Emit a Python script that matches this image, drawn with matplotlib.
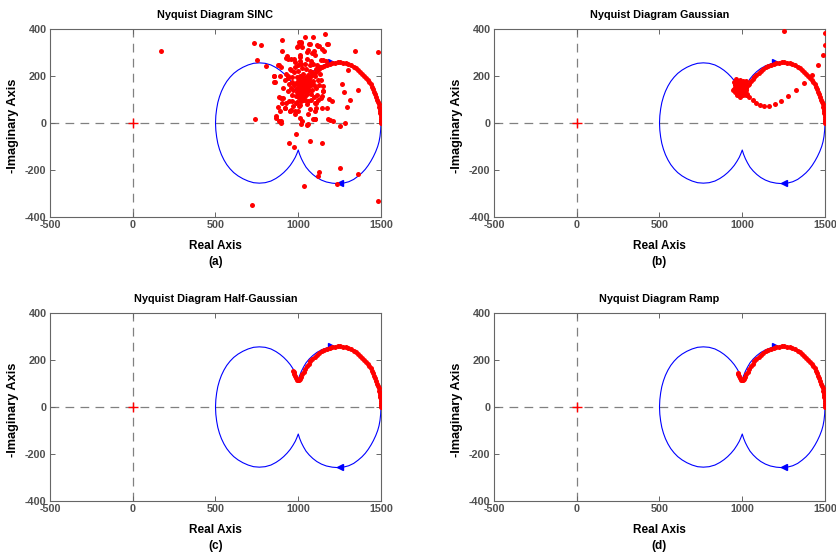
import matplotlib
matplotlib.use("Agg")
import matplotlib.pyplot as plt

plt.rcParams['font.family'] = ['Liberation Sans', 'DejaVu Sans']
plt.rcParams['font.weight'] = 'bold'
plt.rcParams['axes.unicode_minus'] = False

# ---------------- data ----------------
titles = ["Nyquist Diagram SINC", "Nyquist Diagram Gaussian",
          "Nyquist Diagram Half-Gaussian", "Nyquist Diagram Ramp"]
panel_tags = ["(a)", "(b)", "(c)", "(d)"]
x_ticks = [-500, 0, 500, 1000, 1500]
y_ticks = [-400, -200, 0, 200, 400]

# blue nyquist contour, upper half (positive imaginary), from (1500,0) to (500,0)
blue_re_up = [1500, 1498, 1494, 1488, 1480, 1468, 1454, 1440, 1423, 1405, 1385, 1362, 1335,
              1305, 1272, 1240, 1205, 1170, 1140, 1112, 1088, 1066, 1047, 1032, 1019, 1008, 1000,
              992, 982, 968, 952, 933, 912, 890, 865, 835, 800, 765, 730, 697, 665, 636, 610,
              588, 568, 551, 536, 524, 514, 507, 502, 500]
blue_im_up = [0, 30, 57, 80, 100, 122, 143, 161, 180, 197, 212, 226, 240,
              250, 256, 258, 256, 251, 243, 232, 219, 204, 188, 170, 152, 133, 115,
              130, 146, 163, 180, 196, 211, 224, 236, 247, 254, 256, 254, 247, 237, 225, 211,
              195, 177, 157, 135, 112, 87, 60, 31, 0]

# red response: right lobe (half-gaussian)
c_re = [1500, 1500, 1499, 1498, 1497, 1495, 1493, 1491, 1488, 1485, 1481, 1477, 1472, 1466, 1460,
        1453, 1446, 1438, 1429, 1420, 1410, 1399, 1388, 1376, 1362, 1348, 1334, 1318, 1302, 1286,
        1270, 1254, 1238, 1222, 1206, 1190, 1174, 1158, 1143, 1128, 1113, 1099, 1086, 1074, 1063,
        1052, 1042, 1033, 1025, 1017, 1010, 1004, 998, 992, 986, 981, 976, 972, 969]
c_im = [0, 8, 16, 24, 32, 41, 50, 60, 70, 80, 90, 100, 112, 124, 134,
        144, 154, 164, 174, 183, 193, 202, 210, 218, 226, 233, 240, 246, 250, 254,
        256, 258, 258, 257, 255, 252, 248, 243, 238, 231, 223, 214, 205, 195, 184,
        174, 162, 150, 139, 128, 120, 114, 113, 117, 124, 131, 139, 147, 153]

# red response: ramp
d_re = [1500, 1500, 1499, 1498, 1497, 1495, 1493, 1491, 1488, 1485, 1481, 1477, 1472, 1466, 1460,
        1453, 1446, 1438, 1429, 1420, 1410, 1399, 1388, 1376, 1362, 1348, 1334, 1318, 1302, 1286,
        1270, 1254, 1238, 1222, 1206, 1190, 1174, 1158, 1143, 1128, 1113, 1099, 1086, 1074, 1063,
        1052, 1042, 1033, 1025, 1017, 1010, 1004, 998, 992, 986, 981, 976, 973]
d_im = [0, 8, 16, 24, 32, 41, 50, 60, 70, 80, 90, 100, 112, 124, 134,
        144, 154, 164, 174, 183, 193, 202, 210, 218, 226, 233, 240, 246, 250, 254,
        256, 258, 258, 257, 255, 252, 248, 243, 238, 231, 223, 214, 205, 195, 184,
        174, 162, 150, 139, 128, 120, 114, 113, 117, 124, 131, 139, 146]

# red response: gaussian (lobe, tangle and outer loop)
b_lobe_re = [1500, 1500, 1499, 1498, 1497, 1495, 1493, 1491, 1488, 1485, 1481, 1477, 1472, 1466,
             1460, 1453, 1446, 1438, 1429, 1420, 1410, 1399, 1388, 1376, 1362, 1348, 1334, 1318,
             1302, 1286, 1270, 1254, 1238, 1222, 1206, 1190, 1174, 1158, 1143, 1128, 1113, 1099,
             1086, 1074, 1063, 1052, 1042, 1033, 1024, 1015]
b_lobe_im = [0, 8, 16, 24, 32, 41, 50, 60, 70, 80, 90, 100, 112, 124,
             134, 144, 154, 164, 174, 183, 193, 202, 210, 218, 226, 233, 240, 246,
             250, 254, 256, 258, 258, 257, 255, 252, 248, 243, 237, 230, 222, 213,
             204, 195, 186, 177, 168, 160, 153, 147]
b_knot_re = [990, 975, 962, 955, 958, 968, 985, 1002, 1015, 1020, 1015, 1003,
             985, 970, 958, 952, 955, 965, 980, 995, 1008, 1012, 1008, 996,
             980, 968, 965, 972, 988, 1000, 1004, 998, 985, 975, 980, 992,
             1025, 1030, 950, 960, 1020, 945]
b_knot_im = [120, 125, 135, 150, 165, 178, 185, 180, 168, 150, 132, 120,
             112, 118, 130, 145, 160, 172, 178, 176, 166, 150, 136, 126,
             130, 140, 155, 168, 172, 162, 148, 136, 140, 150, 162, 158,
             140, 125, 175, 188, 180, 140]
b_loop_re = [1025, 1041, 1063, 1086, 1106, 1132, 1162, 1197, 1237, 1279, 1326, 1375,
             1420, 1455, 1486, 1497, 1497, 1250]
b_loop_im = [120, 112, 98, 87, 77, 73, 74, 82, 95, 117, 142, 171,
             206, 247, 291, 334, 384, 393]

# red response: sinc (lobe plus scattered samples)
a_lobe_re = [1500, 1500, 1499, 1498, 1497, 1495, 1493, 1491, 1488, 1485, 1481, 1477, 1472, 1466,
             1460, 1453, 1446, 1438, 1429, 1420, 1410, 1399, 1388, 1376, 1362, 1348, 1334, 1318,
             1302, 1286, 1270, 1254, 1238, 1222, 1206, 1190, 1174, 1158, 1143, 1128, 1113, 1099,
             1086, 1074, 1063, 1052]
a_lobe_im = [0, 8, 16, 24, 32, 41, 50, 60, 70, 80, 90, 100, 112, 124,
             134, 144, 154, 164, 174, 183, 193, 202, 210, 218, 226, 233, 240, 246,
             250, 254, 256, 258, 258, 257, 255, 252, 248, 243, 237, 230, 222, 213,
             204, 195, 186, 177]
a_scatter_re = [172, 730, 777, 751, 803, 737, 718, 1035, 1483, 1479, 1343, 1362, 1262, 1275,
                1293, 1313, 1285, 1253, 1207, 1191, 1177, 1253, 1363, 1235, 1125, 1118, 1141,
                1073, 943, 973, 985, 1055, 1025, 1103, 1105, 1074, 968, 954, 999, 942, 864,
                898, 884, 905, 853, 853, 892, 878, 902, 904, 935, 959, 983, 999, 1019, 1043,
                1090, 1114, 1161, 1175, 1141, 1086, 1051, 1152, 1152, 1141, 1141, 1172, 1186,
                1202, 1065, 1121, 1100, 889, 919, 895, 929, 949, 980, 1010, 1061, 1101, 1091,
                1017, 1072, 1177, 1126, 1021, 1061, 1155, 1097, 1011, 1051, 1137, 1147, 1167,
                1082, 1015, 1112, 1302, 884, 898, 929, 939, 975, 955, 855, 859, 906, 919, 939,
                1008, 994, 1005, 922, 948, 866, 886, 896, 880, 904, 978, 988, 1002, 1004, 1110,
                1140, 1150, 1100, 1057, 1019]
a_scatter_im = [307, 341, 334, 268, 241, 16, -350, -270, -331, 301, 308, 141, 166, 130,
                68, 97, 2, -13, 9, 14, 16, -193, -218, -260, -207, -226, -84,
                -75, -84, -102, -46, -10, 9, 15, 63, 60, 73, 55, 52, 92, 23,
                9, 112, 106, 202, 173, 202, 245, 353, 307, 284, 274, 260, 327, 341, 367,
                364, 334, 378, 335, 317, 298, 302, 138, 159, 115, 65, 65, 101,
                94, 335, 328, 290, 51, 65, 108, 87, 51, 37, 23, 37, 51, 16,
                346, 338, 338, 327, 324, 310, 305, 306, 291, 273, 270, 266, 262,
                252, 252, 245, 224, 248, 238, 276, 274, 274, 226, 198, 173, 147, 181, 202,
                281, 324, 345, 63, 51, 30, 9, -1, 66, 87, 51, 87, 74, 116, 83,
                106, 135, 16, -6, -3]
a_cloud_re = [1020, 1035, 1010, 1045, 1000, 1025, 1050, 1015, 1040, 990,
              1060, 1030, 1005, 985, 1055, 1020, 1070, 995, 1048, 1012,
              975, 1065, 1038, 1002, 1080, 960, 1028, 1058, 990, 1075,
              970, 1090, 1042, 1015, 985, 1085, 955, 1068, 1000, 1095,
              1032, 1018, 1048, 1008, 1038, 1022, 998, 1062, 1052, 1028,
              965, 945, 1100, 1110, 1080, 990, 960, 1045, 1020, 1085,
              1105, 1120, 1115, 1060, 975, 950, 940, 1000, 1070, 1095,
              1130, 1125, 938, 1010, 1050, 1100, 980, 1130, 925, 1075,
              1042, 1012, 1120, 960, 1140, 1088, 1003, 1036, 1026, 1057]
a_cloud_im = [150, 160, 140, 145, 165, 175, 170, 125, 130, 150,
              155, 190, 185, 170, 125, 110, 175, 130, 195, 200,
              160, 140, 115, 108, 160, 175, 210, 205, 195, 125,
              140, 180, 100, 95, 115, 140, 150, 220, 220, 160,
              140, 165, 155, 155, 178, 128, 178, 168, 138, 100,
              195, 165, 200, 150, 100, 90, 120, 230, 235, 215,
              230, 185, 120, 95, 215, 230, 190, 245, 245, 110,
              210, 160, 135, 75, 80, 85, 240, 240, 210, 265,
              250, 262, 100, 95, 185, 250, 130, 148, 185, 182]

# ---------------- drawing ----------------
W, H = 837, 553
fig = plt.figure(figsize=(W / 100, H / 100), dpi=100)

boxes = [(50, 29), (494, 29), (50, 313), (494, 313)]  # left, top in pixels
AW, AH = 331, 188

gray_txt = '#505050'
spine_col = '#666666'

full_re = blue_re_up + blue_re_up[::-1]
full_im = blue_im_up + [-v for v in blue_im_up[::-1]]

for i, (l, t) in enumerate(boxes):
    ax = fig.add_axes([l / W, 1 - (t + AH) / H, AW / W, AH / H])
    ax.set_xlim(-500, 1500)
    ax.set_ylim(-400, 400)
    ax.axhline(0, color='#808080', lw=0.9, ls=(0, (7, 5)), zorder=1)
    ax.axvline(0, color='#808080', lw=0.9, ls=(0, (7, 5)), zorder=1)
    ax.plot(full_re, full_im, color='#0000ff', lw=0.8, zorder=2)
    ax.plot([1250], [-257], marker='<', color='#0000ff', ms=5, zorder=3)
    ax.plot([1195], [258], marker='>', color='#0000ff', ms=4, zorder=3)
    ax.plot([0], [0], marker='+', color='#ff0000', ms=7, mew=1.0, zorder=4)

    rk = dict(ls='none', marker='o', color='#ff0000', ms=3.6, mew=0, zorder=5)
    if i == 0:
        ax.plot(a_lobe_re, a_lobe_im, **rk)
        ax.plot(a_cloud_re, a_cloud_im, **rk)
        ax.plot(a_scatter_re, a_scatter_im, **rk)
    elif i == 1:
        ax.plot(b_lobe_re, b_lobe_im, **rk)
        ax.plot(b_knot_re, b_knot_im, **rk)
        ax.plot(b_loop_re, b_loop_im, **rk)
    elif i == 2:
        ax.plot(c_re, c_im, **rk)
    else:
        ax.plot(d_re, d_im, **rk)

    ax.set_xticks(x_ticks)
    ax.set_yticks(y_ticks)
    ax.tick_params(direction='in', length=3.5, width=0.7, top=True, right=True,
                   labelsize=7.8, labelcolor=gray_txt, color=spine_col, pad=2.5)
    for lab in ax.get_xticklabels() + ax.get_yticklabels():
        lab.set_fontweight('bold')
    for sp in ax.spines.values():
        sp.set_color(spine_col)
        sp.set_linewidth(0.8)

    ax.text(0.5, 1.075, titles[i], transform=ax.transAxes, ha='center', va='center',
            fontsize=7.8, fontweight='bold', color='black')
    ax.text(0.5, -0.155, "Real Axis", transform=ax.transAxes, ha='center', va='center',
            fontsize=8.5, fontweight='bold', color='black')
    ax.text(0.5, -0.24, panel_tags[i], transform=ax.transAxes, ha='center', va='center',
            fontsize=8.5, fontweight='bold', color='black')
    ax.text(-0.112, 0.485, "-Imaginary Axis", transform=ax.transAxes, ha='center',
            va='center', rotation=90, fontsize=9.2, fontweight='bold', color='black')

fig.savefig("out.png", dpi=100)
